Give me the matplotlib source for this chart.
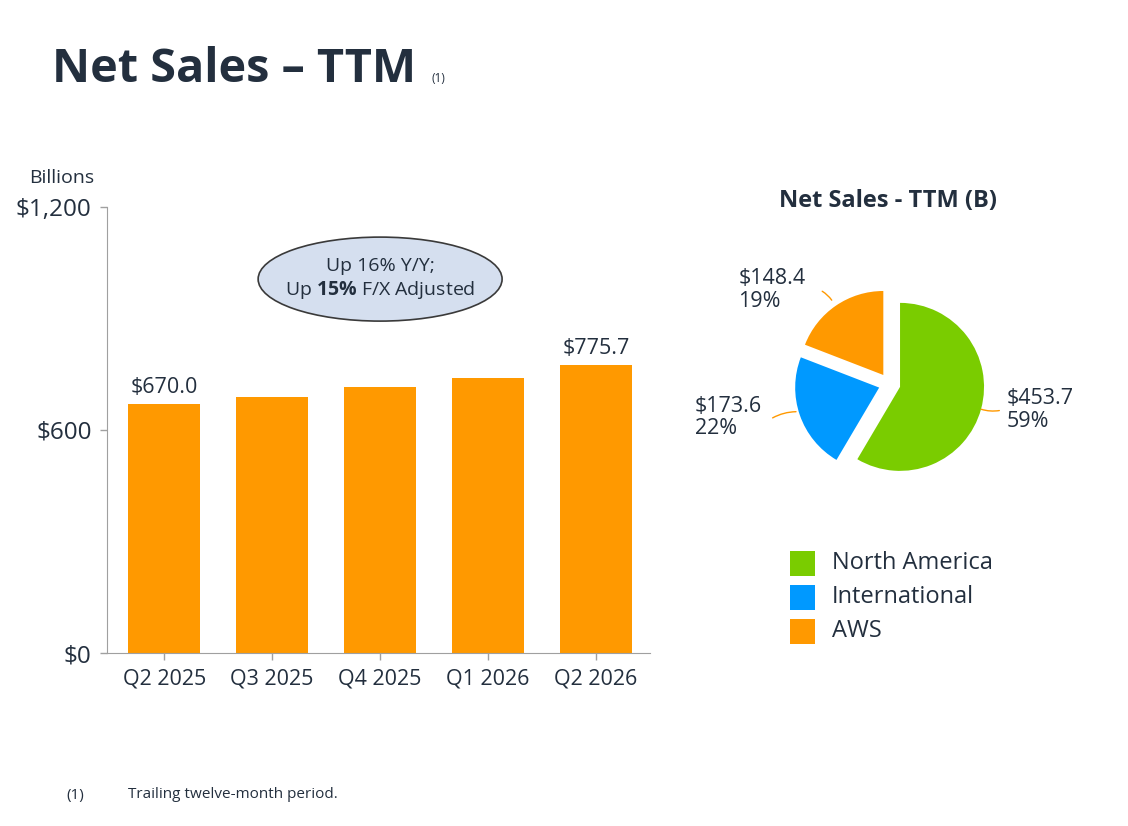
import matplotlib
matplotlib.use("Agg")
import matplotlib.pyplot as plt
from matplotlib.patches import Ellipse, Rectangle

plt.rcParams['font.family'] = ['Open Sans', 'DejaVu Sans']
plt.rcParams['mathtext.fontset'] = 'custom'
plt.rcParams['mathtext.rm'] = 'Open Sans'
plt.rcParams['mathtext.bf'] = 'Open Sans:bold'

# data
quarters = ['Q2 2025', 'Q3 2025', 'Q4 2025', 'Q1 2026', 'Q2 2026']
net_sales = [670.0, 688.0, 715.0, 740.0, 775.7]
bar_labels = ['$670.0', '', '', '', '$775.7']

segments = ['North America', 'International', 'AWS']
segment_sales = [453.7, 173.6, 148.4]
segment_pct = ['59%', '22%', '19%']

dark = '#232F3E'
orange = '#FF9900'
green = '#7ACC00'
blue = '#0099FF'
seg_colors = [green, blue, orange]

W, H = 1128, 826
fig = plt.figure(figsize=(W / 100, H / 100), dpi=100)

# title
fig.text(52 / W, 1 - 82 / H, 'Net Sales \u2013 TTM', fontsize=33.7, fontweight='bold',
         color=dark, va='baseline', ha='left')
fig.text(431 / W, 1 - 82 / H, '(1)', fontsize=8.5, color=dark, va='baseline')

# bar chart
ax = fig.add_axes([107 / W, 1 - 653 / H, 543 / W, 446 / H])
x = list(range(len(quarters)))
ax.bar(x, net_sales, width=0.667, color=orange, zorder=2)
for xi, v, lab in zip(x, net_sales, bar_labels):
    if lab:
        ax.text(xi, v + 16, lab, ha='center', va='bottom', fontsize=15.5, color=dark)
ax.set_xlim(-0.53, 4.5)
ax.set_ylim(0, 1200)
ax.set_yticks([0, 600, 1200])
ax.set_yticklabels(['$0', '$600', '$1,200'], fontsize=17.5, color=dark)
ax.set_xticks(x)
ax.set_xticklabels(quarters, fontsize=15.5, color=dark)
for s in ['top', 'right']:
    ax.spines[s].set_visible(False)
for s in ['left', 'bottom']:
    ax.spines[s].set_color('#A0A0A0')
ax.tick_params(axis='both', colors='#A0A0A0', length=5, width=1)
ax.tick_params(axis='y', labelcolor=dark, pad=6)
ax.tick_params(axis='x', labelcolor=dark, pad=6)
ax.text(-0.024, 1.045, 'Billions', transform=ax.transAxes, ha='right', va='bottom',
        fontsize=14, color=dark)

ell = Ellipse((2.0, 1006), 2.26, 226, facecolor='#D5DFEF', edgecolor='#3A3A3A',
              linewidth=1.2, zorder=3)
ax.add_patch(ell)
ax.text(2.0, 1006, 'Up 16% Y/Y;\nUp $\\mathbf{15\\%}$ F/X Adjusted', ha='center',
        va='center', fontsize=14, color=dark, zorder=4, linespacing=1.25)

# pie chart
cx, cy, r = 889.5, 384, 84
half = 220
pax = fig.add_axes([(cx - half) / W, 1 - (cy + half) / H, 2 * half / W, 2 * half / H])
lim = half / r
pax.pie(segment_sales, colors=seg_colors, startangle=90, counterclock=False,
        explode=[0.13, 0.13, 0.13], radius=1, wedgeprops=dict(linewidth=0))
pax.set_xlim(-lim, lim)
pax.set_ylim(-lim, lim)
pax.set_aspect('equal')
pax.axis('off')

lab_pos = [(1.40, -0.31), (-2.32, -0.40), (-1.80, 1.12)]
lines = [((1.06, -0.29), (1.34, -0.31)),
         ((-1.08, -0.33), (-1.42, -0.42)),
         ((-0.67, 0.97), (-0.83, 1.12))]
for (lx, ly), v, p, (p0, p1) in zip(lab_pos, segment_sales, segment_pct, lines):
    pax.text(lx, ly, '$%.1f\n%s' % (v, p), ha='left', va='center', fontsize=15.5,
             color=dark, linespacing=1.1)
    pax.annotate('', xy=p1, xytext=p0,
                 arrowprops=dict(arrowstyle='-', color=orange, lw=1,
                                 connectionstyle='arc3,rad=0.15'))

fig.text(888 / W, 1 - 201 / H, 'Net Sales - TTM (B)', ha='center', va='center',
         fontsize=17, fontweight='bold', color=dark)

# legend
for i, (name, c) in enumerate(zip(segments, seg_colors)):
    yc = 563 + i * 34
    fig.patches.append(Rectangle((790 / W, 1 - (yc + 12.5) / H), 25 / W, 25 / H,
                                 transform=fig.transFigure, facecolor=c,
                                 edgecolor='none'))
    fig.text(832 / W, 1 - yc / H, name, ha='left', va='center', fontsize=17,
             color=dark)

# footnote
fig.text(66 / W, 1 - 795 / H, '(1)', fontsize=11, color=dark, va='center')
fig.text(128 / W, 1 - 795 / H, 'Trailing twelve-month period.', fontsize=11,
         color=dark, va='center')

fig.savefig('out.png', dpi=100)
